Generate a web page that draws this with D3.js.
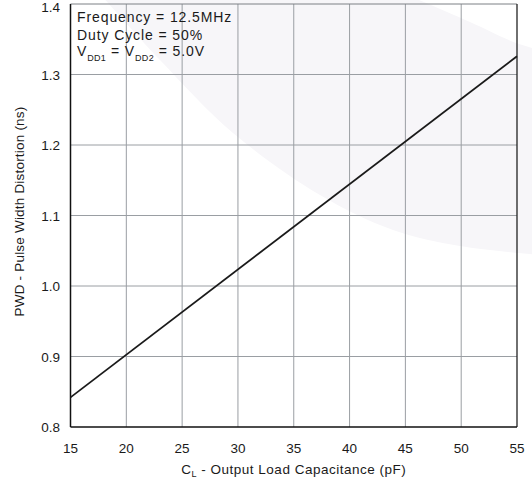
<!DOCTYPE html>
<html>
<head>
<meta charset="utf-8">
<script src="https://cdn.jsdelivr.net/npm/d3@7"></script>
<style>
  body { margin: 0; background: #fff; }
  text { font-family: "Liberation Sans", Arial, sans-serif; fill: #1a1a1a; }
</style>
</head>
<body>
<svg width="532" height="487"></svg>
<script>
// data
const capacitance = [15, 55];
const pwd = [0.842, 1.326];
const xTicks = [15, 20, 25, 30, 35, 40, 45, 50, 55];
const yTicks = [0.8, 0.9, 1.0, 1.1, 1.2, 1.3, 1.4];

const margin = { top: 4, right: 15, bottom: 60, left: 70.5 };
const width = 532, height = 487;

const svg = d3.select('svg');

const x = d3.scaleLinear().domain([15, 55]).range([margin.left, width - margin.right]);
const y = d3.scaleLinear().domain([0.8, 1.4]).range([height - margin.bottom, margin.top]);

// faint watermark swoosh behind the plot (decoration, pixel space)
const lowerEdge = [[100, -6], [160, 60], [233, 133], [320, 195], [393, 230], [460, 246], [540, 255]];
const upperEdge = [[540, 50], [516, 43], [470, 22], [405, -6]];
const edge = d3.line().curve(d3.curveCatmullRom);
svg.append('path')
    .attr('d', edge(lowerEdge) + 'L' + edge(upperEdge).slice(1) + 'Z')
    .attr('fill', '#f7f6f9');

// grid
svg.append('g').selectAll('line').data(xTicks.slice(1, -1)).enter()
    .append('line')
    .attr('x1', d => x(d)).attr('x2', d => x(d))
    .attr('y1', y(1.4)).attr('y2', y(0.8))
    .attr('stroke', '#9a9ea3').attr('stroke-width', 1);

svg.append('g').selectAll('line').data(yTicks.slice(1, -1)).enter()
    .append('line')
    .attr('x1', x(15)).attr('x2', x(55))
    .attr('y1', d => y(d)).attr('y2', d => y(d))
    .attr('stroke', '#9a9ea3').attr('stroke-width', 1);

// frame: top grey, others dark
svg.append('line').attr('x1', x(15)).attr('x2', x(55)).attr('y1', y(1.4)).attr('y2', y(1.4))
    .attr('stroke', '#7d8085').attr('stroke-width', 1);
svg.append('line').attr('x1', x(55)).attr('x2', x(55)).attr('y1', y(1.4)).attr('y2', y(0.8))
    .attr('stroke', '#222').attr('stroke-width', 1.3);
svg.append('line').attr('x1', x(15)).attr('x2', x(15)).attr('y1', y(1.4)).attr('y2', y(0.8))
    .attr('stroke', '#111').attr('stroke-width', 1.5);
svg.append('line').attr('x1', x(15)).attr('x2', x(55)).attr('y1', y(0.8)).attr('y2', y(0.8))
    .attr('stroke', '#111').attr('stroke-width', 1.5);

// tick labels
svg.append('g').selectAll('text').data(xTicks).enter()
    .append('text')
    .attr('x', d => x(d)).attr('y', 453)
    .attr('text-anchor', 'middle')
    .style('font-size', '13.5px')
    .text(d => d);

svg.append('g').selectAll('text').data(yTicks).enter()
    .append('text')
    .attr('x', 60).attr('y', d => Math.max(y(d) + 5, 12))
    .attr('text-anchor', 'end')
    .style('font-size', '13.5px')
    .text(d => d.toFixed(1));

// curve
const line = d3.line().x(d => x(d[0])).y(d => y(d[1]));
svg.append('path')
    .datum(capacitance.map((c, i) => [c, pwd[i]]))
    .attr('d', line)
    .attr('fill', 'none')
    .attr('stroke', '#1a1a1a')
    .attr('stroke-width', 1.8);

// axis titles
const xt = svg.append('text')
    .attr('x', x(35)).attr('y', 474)
    .attr('text-anchor', 'middle')
    .style('font-size', '13.5px')
    .style('letter-spacing', '0.5px');
xt.append('tspan').text('C');
xt.append('tspan').attr('dy', 3).style('font-size', '9px').text('L');
xt.append('tspan').attr('dy', -3).text(' - Output Load Capacitance (pF)');

svg.append('text')
    .attr('transform', `translate(24,${(y(0.8) + y(1.4)) / 2 - 4}) rotate(-90)`)
    .attr('text-anchor', 'middle')
    .style('font-size', '13.5px')
    .style('letter-spacing', '0.2px')
    .text('PWD - Pulse Width Distortion (ns)');

// conditions
const cond = svg.append('g').style('font-size', '14px').style('letter-spacing', '0.9px');
cond.append('text').attr('x', 77).attr('y', 22).text('Frequency = 12.5MHz');
cond.append('text').attr('x', 77).attr('y', 40).text('Duty Cycle = 50%');
const v = cond.append('text').attr('x', 77).attr('y', 56);
v.append('tspan').text('V');
v.append('tspan').attr('dy', 5).style('font-size', '9px').style('letter-spacing', '0.3px').text('DD1');
v.append('tspan').attr('dy', -5).text(' = V');
v.append('tspan').attr('dy', 5).style('font-size', '9px').style('letter-spacing', '0.3px').text('DD2');
v.append('tspan').attr('dy', -5).text(' = 5.0V');
</script>
</body>
</html>
